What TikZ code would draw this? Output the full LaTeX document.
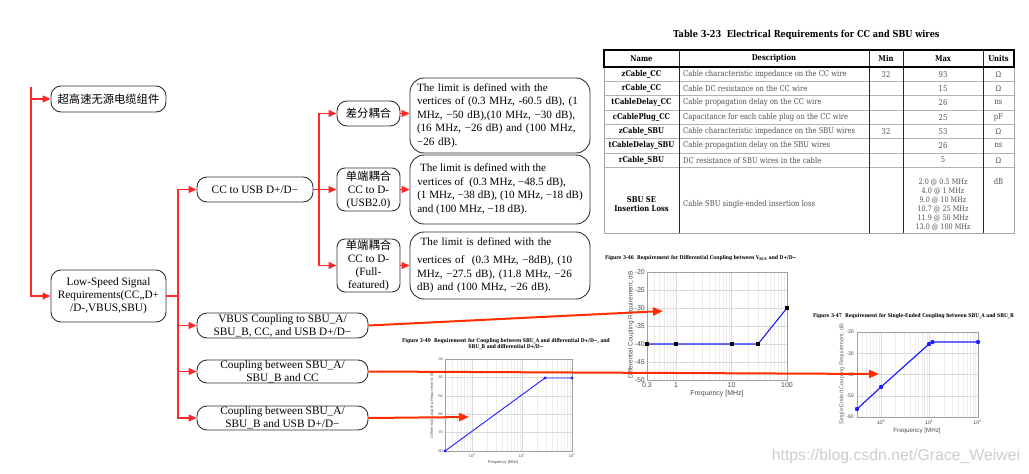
\documentclass[tikz,border=0pt]{standalone}
\usepackage{fontspec}
\setmainfont{Liberation Serif}
\newfontfamily\cjk{Noto Sans CJK SC}
\newfontfamily\arial{Liberation Sans}
\newfontfamily\tabfont[FakeStretch=0.85]{DejaVu Serif}
\usetikzlibrary{arrows.meta}
\definecolor{treered}{RGB}{255,40,40}
\definecolor{longred}{RGB}{255,45,0}
\definecolor{boxline}{RGB}{50,50,50}
\definecolor{plotblue}{RGB}{30,30,255}
\definecolor{wmgray}{RGB}{205,205,205}
\definecolor{tabgray}{RGB}{80,80,80}
\tikzset{
  tf/.style={font=\fontsize{11.3}{13}\selectfont},
  rbox/.style={draw=boxline, line width=0.9pt, rounded corners=10pt, inner sep=0pt, align=center, tf},
  tbox/.style={draw=boxline, line width=0.9pt, rounded corners=14pt, inner sep=0pt, align=left,
    font=\fontsize{11.1}{13.5}\selectfont},
  tl/.style={draw=treered, line width=1.3pt},
  ta/.style={tl, -{Triangle[length=8pt,width=7pt]}},
  la/.style={draw=longred, line width=2pt, -{Triangle[length=10pt,width=8pt]}},
  mgrid/.style={draw=gray!15, line width=0.4pt},
  Mgrid/.style={draw=gray!30, line width=0.5pt},
  axl/.style={draw=gray!75, line width=0.6pt},
  tick/.style={inner sep=1pt, text=black!70},
  ctitle/.style={inner sep=0pt, font=\tabfont\bfseries\fontsize{5.2}{6.2}\selectfont},
  tabtxt/.style={inner sep=0pt, font=\tabfont\fontsize{8}{9}\selectfont, text=tabgray},
  tabname/.style={inner sep=0pt, font=\tabfont\bfseries\fontsize{8}{9}\selectfont},
}
\begin{document}
\begin{tikzpicture}[x=1pt,y=-1pt]
\useasboundingbox (0,0) rectangle (1029,474);
\fill[white] (0,0) rectangle (1029,474);

% ---------------- table ----------------
\node[inner sep=0pt, font=\tabfont\bfseries\fontsize{9.6}{11}\selectfont] (ttitle) at (806.5,35) {Table 3-23\ \ Electrical Requirements for CC and SBU wires};
\foreach \y in {81.3,95.6,110,124.3,138.6,152.9,167.2} \draw[gray!60, line width=0.6pt] (604,\y) -- (1014,\y);
\foreach \x in {679,869,903,983} \draw[black!85, line width=0.8pt] (\x,50) -- (\x,233);
\draw[gray!70, line width=0.8pt] (604,50) rectangle (1014,233);
\draw[black, line width=1.4pt] (604,50) rectangle (1014,67);
\foreach \x/\t [count=\i] in {641.5/Name,774/Description,886/Min,943/Max,998.5/Units}
  \node[tabname] (h\i) at (\x,58.5) {\t};
\foreach \y/\nm/\ds/\mn/\mx/\un [count=\i] in {
  74.2/zCable\_CC/Cable characteristic impedance on the CC wire/32/93/Ω,
  88.5/rCable\_CC/Cable DC resistance on the CC wire//15/Ω,
  102.8/tCableDelay\_CC/Cable propagation delay on the CC wire//26/ns,
  117.1/cCablePlug\_CC/Capacitance for each cable plug on the CC wire//25/pF,
  131.5/zCable\_SBU/Cable characteristic impedance on the SBU wires/32/53/Ω,
  145.8/tCableDelay\_SBU/Cable propagation delay on the SBU wires//26/ns,
  160.1/rCable\_SBU/DC resistance of SBU wires in the cable//5/Ω}{
  \node[tabname] (rn\i) at (641.5,\y) {\nm};
  \node[tabtxt, anchor=west] (rd\i) at (683,\y) {\ds};
  \node[tabtxt] (rmin\i) at (886,\y) {\mn};
  \node[tabtxt] (rmax\i) at (943,\y) {\mx};
  \node[tabtxt] (ru\i) at (998.5,\y) {\un};
}
\node[tabname, align=center, font=\tabfont\bfseries\fontsize{8}{9.5}\selectfont] (rn8) at (641.5,204) {SBU SE\\Insertion Loss};
\node[tabtxt, anchor=west] (rd8) at (683,204) {Cable SBU single-ended insertion loss};
\node[tabtxt, align=center, font=\tabfont\fontsize{7.6}{9}\selectfont] (rmax8) at (943,204.5)
  {2.0 @ 0.5 MHz\\4.0 @ 1 MHz\\9.0 @ 10 MHz\\10.7 @ 25 MHz\\11.9 @ 50 MHz\\13.0 @ 100 MHz};
\node[tabtxt] (ru8) at (998.5,182) {dB};

% ---------------- chart 3-46 ----------------
\node[ctitle, anchor=west] (ta) at (605,258) {Figure 3-46\ \ Requirement for Differential Coupling between V\textsubscript{BUS} and D+/D−};
\foreach \f in {0.4,0.5,0.6,0.7,0.8,0.9,2,3,4,5,6,7,8,9,20,30,40,50,60,70,80,90}{
  \pgfmathsetmacro\px{647+(ln(\f)/ln(10)+0.5229)*55.49}
  \draw[mgrid] (\px,272) -- (\px,380);}
\foreach \px in {676,731.5} \draw[Mgrid] (\px,272) -- (\px,380);
\foreach \py in {290,308,326,344,362} \draw[Mgrid] (647,\py) -- (787,\py);
\draw[axl] (647,272) rectangle (787,380);
\foreach \py/\t [count=\i] in {272/-20,290/-25,308/-30,326/-35,344/-40,362/-45,380/-50}
  \node[tick, anchor=east, font=\arial\fontsize{7}{8}\selectfont] (ay\i) at (646,\py) {\t};
\foreach \px/\t [count=\i] in {647/0.3,676/1,731.5/10,787/100}
  \node[tick, anchor=north, font=\arial\fontsize{7}{8}\selectfont] (ax\i) at (\px,381) {\t};
\node[inner sep=0pt, font=\arial\fontsize{7}{8}\selectfont, text=black!70] (axl) at (717,394) {Frequency [MHz]};
\node[inner sep=0pt, rotate=90, font=\arial\fontsize{6.4}{7}\selectfont, text=black!70] (ayl) at (631,325) {Differential Coupling Requirement, dB};
\draw[plotblue, line width=1.1pt] (647,344) -- (676,344) -- (731.5,344) -- (758,344) -- (787,308);
\foreach \p in {(647,344),(676,344),(731.5,344),(758,344),(787,308)}
  \fill[black] \p ++(-2,-2) rectangle ++(4,4);

% ---------------- chart 3-47 ----------------
\node[ctitle, anchor=west] (tb) at (813,316) {Figure 3-47\ \ Requirement for Single-Ended Coupling between SBU\_A and SBU\_B};
\foreach \f in {0.4,0.5,0.6,0.7,0.8,0.9,2,3,4,5,6,7,8,9,20,30,40,50,60,70,80,90}{
  \pgfmathsetmacro\px{881+ln(\f)/ln(10)*48.3}
  \draw[mgrid] (\px,332) -- (\px,417);}
\foreach \px in {881,929.3} \draw[Mgrid] (\px,332) -- (\px,417);
\foreach \py in {353.25,374.5,395.75} \draw[Mgrid] (857,\py) -- (978,\py);
\draw[axl] (857,332) rectangle (978,417);
\foreach \py/\t [count=\i] in {332/-20,353.25/-30,374.5/-40,395.75/-50,417/-60}
  \node[tick, anchor=east, font=\arial\fontsize{5.2}{6}\selectfont] (by\i) at (855,\py) {\t};
\foreach \px/\t [count=\i] in {881/0,929.3/1,977.6/2}
  \node[tick, anchor=north, font=\arial\fontsize{5.2}{6}\selectfont] (bx\i) at (\px,419) {10\textsuperscript{\t}};
\node[inner sep=0pt, font=\arial\fontsize{6.2}{7}\selectfont, text=black!70] (bxl) at (917,431) {Frequency [MHz]};
\node[inner sep=0pt, rotate=90, font=\arial\fontsize{5.6}{6}\selectfont, text=black!60] (byl) at (842,374) {Single-Ended Coupling Requirement, dB};
\draw[plotblue, line width=1.2pt] (857,409) -- (881,387) -- (929,344) -- (932.5,342) -- (978,342);
\foreach \p in {(857,409),(881,387),(929,344),(932.5,342),(978,342)}
  \fill[plotblue] \p circle (2.2);

% ---------------- chart 3-49 ----------------
\node[ctitle, align=center] (tc) at (506,344) {Figure 3-49\ \ Requirement for Coupling between SBU\_A and differential D+/D−, and\\SBU\_B and differential D+/D−};
\foreach \f in {0.4,0.5,0.6,0.7,0.8,0.9,2,3,4,5,6,7,8,9,20,30,40,50,60,70,80,90}{
  \pgfmathsetmacro\px{472+ln(\f)/ln(10)*50}
  \draw[mgrid] (\px,359) -- (\px,451);}
\foreach \px in {472,522} \draw[Mgrid] (\px,359) -- (\px,451);
\foreach \py in {377.4,395.8,414.2,432.6} \draw[Mgrid] (445,\py) -- (572,\py);
\draw[axl] (445,359) rectangle (572,451);
\foreach \py/\t [count=\i] in {359/-30,377.4/-40,395.8/-50,414.2/-60,432.6/-70,451/-80}
  \node[tick, anchor=east, font=\arial\fontsize{3.8}{4}\selectfont] (cy\i) at (444,\py) {\t};
\foreach \px/\t [count=\i] in {472/0,522/1,572/2}
  \node[tick, anchor=north, font=\arial\fontsize{3.8}{4}\selectfont] (cx\i) at (\px,452) {10\textsuperscript{\t}};
\node[inner sep=0pt, font=\arial\fontsize{4}{5}\selectfont, text=black!70] (cxl) at (503,462) {Frequency [MHz]};
\node[inner sep=0pt, rotate=90, font=\arial\fontsize{4}{5}\selectfont, text=black!60] (cyl) at (432,405) {Differential Coupling Requirement, dB};
\draw[plotblue, line width=0.9pt] (445,451) -- (545,378) -- (572,378);
\foreach \p in {(445,451),(545,378),(572,378)}
  \fill[plotblue] \p circle (1.6);

% ---------------- tree ----------------
\node[rbox, minimum width=115pt, minimum height=26pt] (n1) at (108.5,99) {\cjk 超高速无源电缆组件};
\node[rbox, minimum width=115pt, minimum height=52pt] (n2) at (108.5,296) {Low-Speed Signal\\Requirements(CC,,D+\\/D-,VBUS,SBU)};
\node[rbox, minimum width=116pt, minimum height=25pt] (c1) at (255,189.5) {CC to USB D+/D−};
\node[rbox, minimum width=63pt, minimum height=25pt] (d1) at (368.5,113.5) {\cjk 差分耦合};
\node[rbox, minimum width=63pt, minimum height=43pt, rounded corners=8pt] (d2) at (368.5,189.5) {{\cjk 单端耦合}\\CC to D-\\(USB2.0)};
\node[rbox, minimum width=63pt, minimum height=53pt, rounded corners=8pt] (d3) at (368.5,265.5) {{\cjk 单端耦合}\\CC to D-\\(Full-\\featured)};
\node[tbox, text width=166pt, minimum width=180pt, minimum height=75pt] (t1) at (500,115.5)
  {The limit is defined with the\\vertices of (0.3 MHz, -60.5 dB), (1\\MHz, −50 dB),(10 MHz, −30 dB),\\(16 MHz, −26 dB) and (100 MHz,\\−26 dB).};
\node[tbox, minimum width=180pt, minimum height=69pt] (t2) at (500,189.5)
  {\ The limit is defined with the\\vertices of\ \ (0.3 MHz, −48.5 dB),\\(1 MHz, −38 dB), (10 MHz, −18 dB)\\and (100 MHz, −18 dB).};
\node[tbox, text width=166pt, minimum width=180pt, minimum height=67pt] (t3) at (500,265.5)
  {\ The limit is defined with the\\[5pt]vertices of\ \ (0.3 MHz, −8dB), (10\\MHz, −27.5 dB), (11.8 MHz, −26\\dB) and (100 MHz, −26 dB).};
\node[rbox, minimum width=171pt, minimum height=25pt] (v1) at (282.5,325.5) {VBUS Coupling to SBU\_A/\\SBU\_B, CC, and USB D+/D−};
\node[rbox, minimum width=171pt, minimum height=23pt] (v2) at (282.5,371.5) {Coupling between SBU\_A/\\SBU\_B and CC};
\node[rbox, minimum width=171pt, minimum height=24pt] (v3) at (282.5,418) {Coupling between SBU\_A/\\SBU\_B and USB D+/D−};

\coordinate (top) at (31,87);
\coordinate (j1) at (178,296);
\coordinate (j2) at (319,189.5);
\coordinate (aA) at (663,311);
\coordinate (aB) at (879,374);
\coordinate (aC) at (469,417);

\draw[ta] (top) |- (n1);
\draw[ta] (top) |- (n2);
\draw[tl] (n2.east) -- (j1);
\draw[ta] (j1) |- (c1);
\draw[ta] (j1) |- (v1);
\draw[ta] (j1) |- (v2);
\draw[ta] (j1) |- (v3);
\draw[tl] (c1.east) -- (j2);
\draw[ta] (j2) |- (d1);
\draw[ta] (j2) -- (d2);
\draw[ta] (j2) |- (d3);
\draw[ta] (d1.east) -- (d1.east -| t1.west);
\draw[ta] (d2.east) -- (d2.east -| t2.west);
\draw[ta] (d3.east) -- (d3.east -| t3.west);

\draw[la] (v1.east) -- (aA);
\draw[la] (v2.east) -- (aB);
\draw[la] (v3.east) -- (aC);

% watermark
\node[inner sep=0pt, font=\arial\fontsize{15.8}{17}\selectfont, text=wmgray] (wm) at (896,456) {https://blog.csdn.net/Grace\_Weiwei};
\end{tikzpicture}
\end{document}
